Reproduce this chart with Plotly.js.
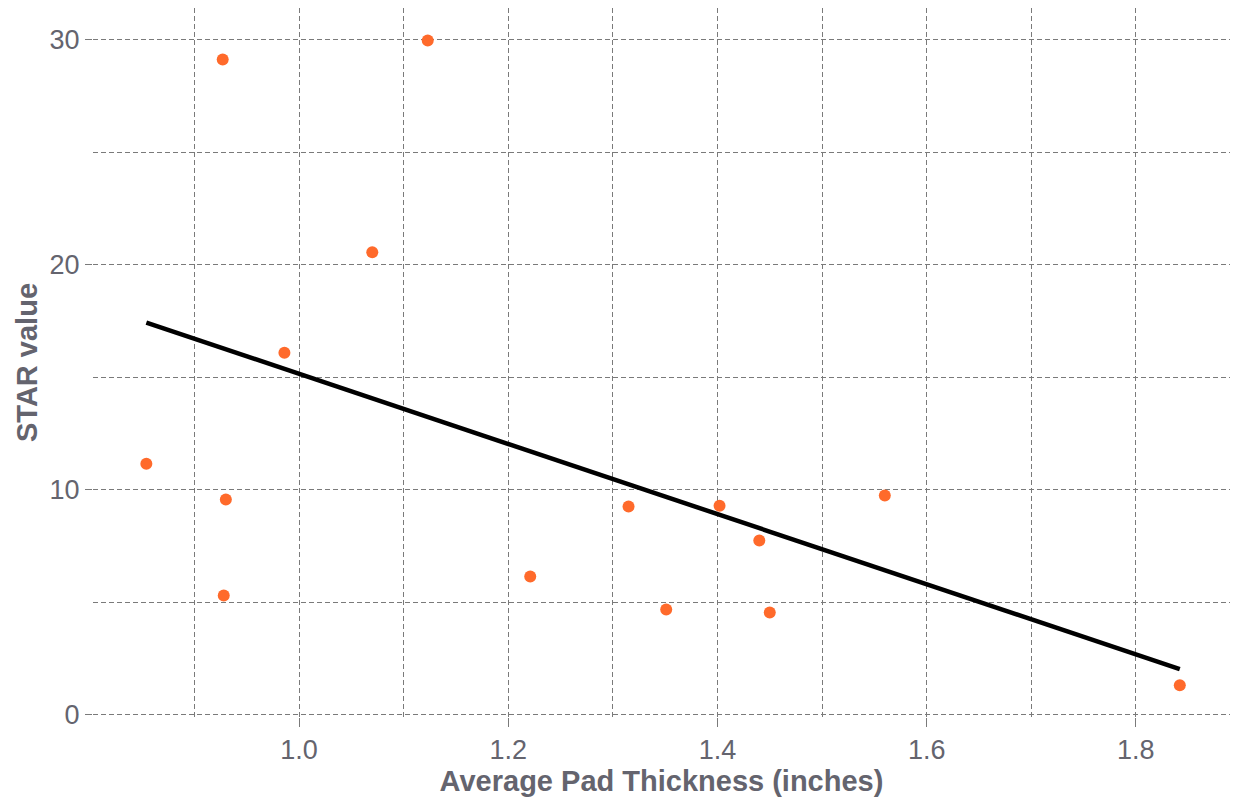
<!DOCTYPE html>
<html>
<head>
<meta charset="utf-8">
<script src="https://cdn.plot.ly/plotly-3.0.1.min.js"></script>
<style>
  html, body { margin: 0; padding: 0; background: #ffffff; }
  #chart { width: 1235px; height: 797px; }
</style>
</head>
<body>
<div id="chart"></div>
<script>
// Data
const padThickness = [0.854, 0.927, 0.930, 0.928, 0.986, 1.070, 1.123, 1.221, 1.315, 1.351, 1.402, 1.440, 1.450, 1.560, 1.842];
const starValue    = [11.15, 29.11, 9.56, 5.30, 16.08, 20.55, 29.96, 6.14, 9.25, 4.68, 9.29, 7.74, 4.54, 9.74, 1.31];
// Fitted trend line endpoints
const fitX = [0.854, 1.842];
const fitY = [17.42, 2.03];

const xTickVals = [1.0, 1.2, 1.4, 1.6, 1.8];
const xTickText = ["1.0", "1.2", "1.4", "1.6", "1.8"];
const yTickVals = [0, 10, 20, 30];
const yTickText = ["0", "10", "20", "30"];

const textColor = "#64646e";
const gridColor = "#7a7a7a";
const fontFamily = "Liberation Sans, Arial, sans-serif";

const traces = [
  {
    x: padThickness, y: starValue,
    type: "scatter", mode: "markers",
    marker: { color: "#ff6a2b", size: 12 },
    showlegend: false, hoverinfo: "x+y"
  },
  {
    x: fitX, y: fitY,
    type: "scatter", mode: "lines",
    line: { color: "#000000", width: 4.5 },
    showlegend: false
  }
];

const layout = {
  width: 1235, height: 797,
  margin: { l: 93, r: 5, t: 8, b: 80 },
  paper_bgcolor: "#ffffff",
  plot_bgcolor: "#ffffff",
  font: { family: fontFamily, color: textColor },
  xaxis: {
    range: [0.803, 1.890],
    tickvals: xTickVals, ticktext: xTickText,
    tickfont: { size: 27, color: textColor, family: fontFamily },
    ticks: "outside", ticklen: 9, tickwidth: 1, tickcolor: gridColor,
    showgrid: true, gridcolor: gridColor, gridwidth: 1, griddash: "5px,3px",
    minor: { dtick: 0.1, tick0: 0.9, showgrid: true, gridcolor: gridColor, gridwidth: 1, griddash: "5px,3px", ticks: "" },
    zeroline: false, showline: false,
    title: { text: "<b>Average Pad Thickness (inches)</b>", font: { size: 29, color: textColor, family: fontFamily }, standoff: 3 }
  },
  yaxis: {
    range: [-0.1, 31.4],
    tickvals: yTickVals, ticktext: yTickText,
    tickfont: { size: 27, color: textColor, family: fontFamily },
    ticks: "outside", ticklen: 7, tickwidth: 1, tickcolor: gridColor,
    showgrid: true, gridcolor: gridColor, gridwidth: 1, griddash: "5px,3px",
    minor: { dtick: 5, tick0: 5, showgrid: true, gridcolor: gridColor, gridwidth: 1, griddash: "5px,3px", ticks: "" },
    zeroline: false, showline: false,
    title: { text: "<b>STAR value</b>", font: { size: 29, color: textColor, family: fontFamily }, standoff: 3 }
  }
};

Plotly.newPlot("chart", traces, layout, { displayModeBar: false, staticPlot: true });
</script>
</body>
</html>
